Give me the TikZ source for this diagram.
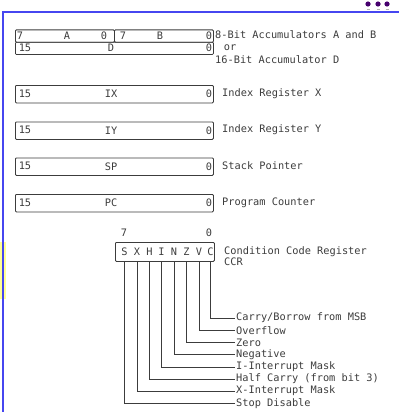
\documentclass[tikz,border=0pt]{standalone}
\usepackage{fontspec}
\setmainfont{DejaVu Sans Mono}
\definecolor{framblue}{RGB}{70,70,240}
\definecolor{dotpurple}{RGB}{70,0,110}
\definecolor{markyellow}{RGB}{255,255,150}
\definecolor{inkgray}{RGB}{60,60,60}
\begin{document}
\begin{tikzpicture}[x=1pt,y=-1pt,
  regbox/.style={draw=inkgray, line width=0.8pt, rounded corners=1pt, inner sep=0pt, anchor=north west},
  bittxt/.style={inner sep=0pt, text=inkgray, font=\fontsize{10.3}{11}\selectfont},
  desc/.style={inner sep=1pt, anchor=west, text=inkgray, font=\fontsize{10.3}{11}\selectfont},
  lead/.style={draw=inkgray, line width=0.7pt}]
\useasboundingbox (0,0) rectangle (399,412);
% slide frame
\fill[markyellow] (0,242) rectangle (5.5,299);
\draw[framblue, line width=1.3pt] (3,412) -- (3,12) -- (399,12);
\foreach \dx in {368,378,387} {
  \fill[dotpurple] (\dx,4) circle (2.6);
  \draw[gray!60, line width=0.6pt] (\dx-1.5,9) -- (\dx+1.5,9);
}

% accumulators A, B and D
\node[regbox, minimum width=99, minimum height=12.3] (accA) at (15,29.5) {};
\node[regbox, minimum width=99, minimum height=12.3] (accB) at (114,29.5) {};
\node[regbox, minimum width=198, minimum height=12.3] (accD) at (15,41.8) {};
\node[bittxt] (accAhi) at (20,35.7) {7};
\node[bittxt] (accAname) at (67,35.7) {A};
\node[bittxt] (accAlo) at (104,35.7) {0};
\node[bittxt] (accBhi) at (123,35.7) {7};
\node[bittxt] (accBname) at (160,35.7) {B};
\node[bittxt] (accBlo) at (209,35.7) {0};
\node[bittxt] (accDhi) at (25,48) {15};
\node[bittxt] (accDname) at (111,48) {D};
\node[bittxt] (accDlo) at (209,48) {0};
\node[desc] (lblAB) at (214,34.5) {8-Bit Accumulators A and B};
\node[desc, anchor=center] (lblor) at (230,47.5) {or};
\node[desc] (lblD) at (214,60) {16-Bit Accumulator D};

% 16-bit registers
\foreach \reg/\ty/\txt in {IX/85/Index Register X, IY/121.5/Index Register Y,
                           SP/157.5/Stack Pointer, PC/194/Program Counter} {
  \node[regbox, minimum width=198, minimum height=17.5] (reg\reg) at (15,\ty) {};
  \node[bittxt] (reg\reg hi) at (25,\ty+8.8) {15};
  \node[bittxt] (reg\reg name) at (111,\ty+8.8) {\reg};
  \node[bittxt] (reg\reg lo) at (209,\ty+8.8) {0};
  \node[desc] (lbl\reg) at (221,\ty+8.3) {\txt};
}

% condition code register
\node[regbox, minimum width=99, minimum height=19] (ccr) at (115,242) {};
\node[bittxt] (ccrhi) at (124,233) {7};
\node[bittxt] (ccrlo) at (209,233) {0};
\foreach \flag/\fx in {S/124.5,X/137,H/149.5,I/161.5,N/174,Z/186.5,V/199,C/210.5}
  \node[bittxt] (bit\flag) at (\fx,251.5) {\flag};
\node[desc, anchor=north west, align=left] (lblccr) at (223,245) {Condition Code Register\\CCR};

\node[desc] (lblC) at (235,318) {Carry/Borrow from MSB};
\node[desc] (lblV) at (235,330.5) {Overflow};
\node[desc] (lblZ) at (235,342.5) {Zero};
\node[desc] (lblN) at (235,354.5) {Negative};
\node[desc] (lblI) at (235,367) {I-Interrupt Mask};
\node[desc] (lblH) at (235,379) {Half Carry (from bit 3)};
\node[desc] (lblX) at (235,391) {X-Interrupt Mask};
\node[desc] (lblS) at (235,403.5) {Stop Disable};

\foreach \flag in {S,X,H,I,N,Z,V,C}
  \draw[lead] (bit\flag |- ccr.south) |- (lbl\flag.west);
\end{tikzpicture}
\end{document}
